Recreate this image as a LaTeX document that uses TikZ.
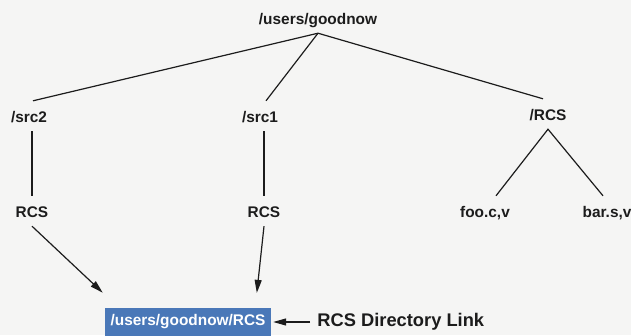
\documentclass[tikz,border=0pt]{standalone}
\usepackage{fontspec}
\setmainfont{Liberation Sans}
\usepackage{xcolor}
\usepackage{tikz}
\usetikzlibrary{positioning, arrows.meta}
\definecolor{paper}{HTML}{F5F5F4}
\definecolor{ink}{HTML}{1C1C1C}
\definecolor{linkblue}{HTML}{4A78B8}
\tikzset{
  dir/.style={text=ink, font=\fontsize{15.4}{18}\selectfont\bfseries,
              text height=12pt, text depth=0pt, inner xsep=2pt, inner ysep=9pt},
  linkbox/.style={fill=linkblue, text=white, font=\fontsize{15.4}{18}\selectfont\bfseries,
                  minimum width=166pt, minimum height=28pt, inner sep=0pt},
  tag/.style={text=ink, font=\fontsize{18.3}{21}\selectfont\bfseries,
              text height=13pt, text depth=4pt, inner sep=2pt},
  edge/.style={draw=ink, line width=1.2pt},
  ar/.style={-{Triangle[length=13pt, width=7pt]}, line width=1.2pt, ink},
}

\begin{document}
\begin{tikzpicture}[x=1pt, y=-1pt]

  \fill[paper] (0,0) rectangle (631,335);
  \useasboundingbox (0,0) rectangle (631,335);

  % --- home directory and its three subdirectories ---
  \node[dir] (root) at (318,18) {/users/goodnow};
  \node[dir] (src2) at (29,116) {/src2};
  \node[dir] (src1) at (260,116) {/src1};
  \node[dir] (rcsdir) at (548,114) {/RCS};

  % --- third level ---
  \node[dir] (rcs2) at (32,211) {RCS};
  \node[dir] (rcs1) at (264,211) {RCS};
  \node[dir] (foo) at (485,211) {foo.c,v};
  \node[dir] (bar) at (607,211) {bar.s,v};

  % --- shared link ---
  \node[linkbox] (link) at (188,322) {/users/goodnow/RCS};
  \node[tag, right=44pt of link] (tag) {RCS Directory Link};

  % --- tree edges ---
  \draw[edge] (root.south) -- ([xshift=4pt]src2.north);
  \draw[edge] (root.south) -- ([xshift=6pt]src1.north);
  \draw[edge] (root.south) -- ([xshift=-5pt]rcsdir.north);
  \draw[edge] (src2.south -| rcs2.north) -- (rcs2.north);
  \draw[edge] (src1.south -| rcs1.north) -- (rcs1.north);
  \draw[edge] ([xshift=11pt]foo.north) -- (rcsdir.south) -- ([xshift=-4pt]bar.north);

  % --- links ---
  \draw[ar, shorten >=22pt] (rcs2.south) -- ([xshift=14pt]link.north west);
  \draw[ar, shorten >=15pt] (rcs1.south) -- ([xshift=-16pt]link.north east);
  \draw[ar, shorten >=2pt, shorten <=5pt] (tag.west) -- (link.east);

\end{tikzpicture}
\end{document}
